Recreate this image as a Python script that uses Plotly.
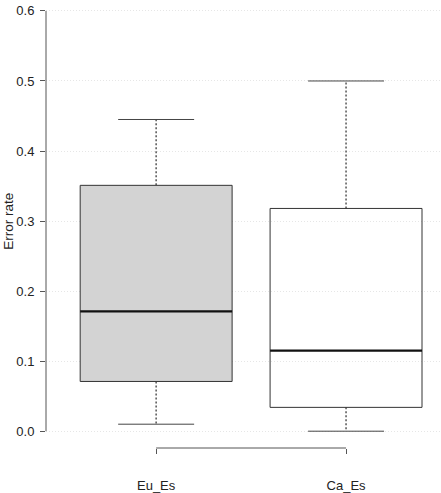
import plotly.graph_objects as go

# Data
categories = ["Eu_Es", "Ca_Es"]
positions = [1, 2]
whisker_low = [0.01, 0.0]
q1 = [0.071, 0.034]
median = [0.171, 0.115]
q3 = [0.351, 0.318]
whisker_high = [0.445, 0.50]
fills = ["#d3d3d3", "rgba(255,255,255,0)"]
y_ticks = [0.0, 0.1, 0.2, 0.3, 0.4, 0.5, 0.6]
y_tick_labels = ["0.0", "0.1", "0.2", "0.3", "0.4", "0.5", "0.6"]

BOX_W = 0.8
CAP_W = 0.4
OUTLINE = "#333333"

fig = go.Figure()

for i, cat in enumerate(categories):
    p = positions[i]
    l, r = p - BOX_W / 2, p + BOX_W / 2
    # whiskers (dotted)
    fig.add_trace(go.Scatter(x=[p, p, None, p, p],
                             y=[q3[i], whisker_high[i], None, q1[i], whisker_low[i]],
                             mode="lines", line=dict(color="#555555", width=1.5, dash="2px,2px"),
                             hoverinfo="skip", showlegend=False))
    # caps
    fig.add_trace(go.Scatter(x=[p - CAP_W / 2, p + CAP_W / 2, None, p - CAP_W / 2, p + CAP_W / 2],
                             y=[whisker_high[i], whisker_high[i], None, whisker_low[i], whisker_low[i]],
                             mode="lines", line=dict(color="#444444", width=1),
                             hoverinfo="skip", showlegend=False))
    # box
    fig.add_trace(go.Scatter(x=[l, r, r, l, l], y=[q1[i], q1[i], q3[i], q3[i], q1[i]],
                             mode="lines", fill="toself", fillcolor=fills[i],
                             line=dict(color=OUTLINE, width=1),
                             hoverinfo="skip", showlegend=False, name=cat))
    # median
    fig.add_trace(go.Scatter(x=[l, r], y=[median[i], median[i]], mode="lines",
                             line=dict(color="#111111", width=2.2),
                             hoverinfo="skip", showlegend=False))

# y axis line from 0 to 0.6 (R style)
fig.add_shape(type="line", xref="paper", yref="y", x0=0, x1=0, y0=y_ticks[0], y1=y_ticks[-1],
              line=dict(color="#555555", width=1))
# x axis bracket between first and last category
fig.add_shape(type="line", xref="x", yref="paper", x0=positions[0], x1=positions[-1], y0=0, y1=0,
              line=dict(color="#555555", width=1))

fig.add_annotation(text="Error rate", xref="paper", yref="paper", x=-0.094, y=0.507,
                   textangle=-90, showarrow=False, xanchor="center", yanchor="middle",
                   font=dict(size=13.5, color="#222222"))

fig.update_layout(
    width=441, height=493,
    margin=dict(l=46, r=0, t=0, b=43),
    paper_bgcolor="white", plot_bgcolor="white",
    font=dict(family="Liberation Sans, Arial, sans-serif", size=13, color="#222222"),
    xaxis=dict(range=[0.42, 2.5], showgrid=False, zeroline=False, showline=False,
               tickmode="array", tickvals=positions, ticktext=categories,
               ticks="outside", ticklen=5, tickcolor="#555555", tickwidth=1,
               ticklabelstandoff=20, tickfont=dict(size=13, color="#222222")),
    yaxis=dict(range=[-0.024, 0.6156], showgrid=True, gridcolor="#e6e6e6", griddash="1px,2px",
               gridwidth=1, zeroline=False, showline=False,
               tickmode="array", tickvals=y_ticks, ticktext=y_tick_labels,
               ticks="outside", ticklen=5, tickcolor="#555555", tickwidth=1,
               ticklabelstandoff=3, tickfont=dict(size=13, color="#222222")),
)

fig.write_html("out.html")
